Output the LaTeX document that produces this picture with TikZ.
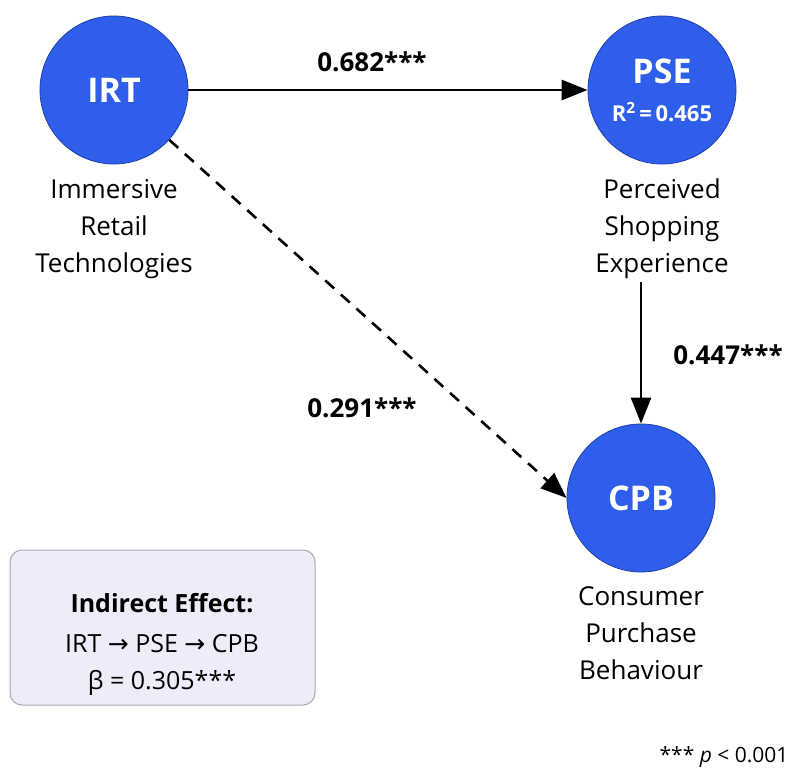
\documentclass[tikz,border=0pt]{standalone}
\usepackage{fontspec}
\setmainfont{Open Sans}
\newfontfamily\arrowfont{DejaVu Sans}
\usetikzlibrary{positioning,arrows.meta}
\definecolor{latentblue}{HTML}{2F5FEA}
\definecolor{latentedge}{HTML}{1F3FA8}
\definecolor{notefill}{HTML}{EEECF8}
\definecolor{notedraw}{HTML}{A8A8B0}
\tikzset{
  latent/.style={circle, fill=latentblue, draw=latentedge, line width=0.8pt,
    minimum size=148pt, inner sep=0pt, text=white, align=center,
    font=\fontsize{34}{36}\selectfont\bfseries},
  desc/.style={align=center, font=\fontsize{26}{37}\selectfont},
  coef/.style={font=\fontsize{26}{30}\selectfont\bfseries},
  path/.style={line width=2.6pt, -{Triangle[length=26pt,width=20pt]}},
}
\begin{document}
\begin{tikzpicture}[x=1pt,y=-1pt]
  \useasboundingbox (0,0) rectangle (794,776);
  % constructs
  \node[latent] (IRT) at (114,90) {IRT};
  \node[latent] (PSE) at (662,90) {PSE\\[2pt]{\fontsize{22}{24}\selectfont R\textsuperscript{2}\,=\,0.465}};
  \node[latent] (CPB) at (641,498) {CPB};
  % descriptions
  \node[desc, below=11pt of IRT] (IRTd) {Immersive\\Retail\\Technologies};
  \node[desc, below=11pt of PSE] (PSEd) {Perceived\\Shopping\\Experience};
  \node[desc, below=11pt of CPB] (CPBd) {Consumer\\Purchase\\Behaviour};
  % paths
  \draw[path] (IRT) -- (PSE);
  \draw[path, dashed, dash pattern=on 12pt off 9pt] (IRT) -- (CPB.west);
  \draw[path] (PSEd.south -| CPB.north) -- (CPB.north);
  \node[coef] (b1) at (372,62) {0.682***};
  \node[coef] (b2) at (362,408) {0.291***};
  \node[coef] (b3) at (728,355) {0.447***};
  % indirect effect
  \draw[rounded corners=12pt, fill=notefill, draw=notedraw, line width=1pt]
    (10,550) rectangle (315,705);
  \node[font=\fontsize{25}{28}\selectfont\bfseries] (ind) at (162,603) {Indirect Effect:};
  \node[font=\fontsize{25}{28}\selectfont] (path) at (162,644) {IRT {\arrowfont →} PSE {\arrowfont →} CPB};
  \node[font=\fontsize{25}{28}\selectfont] (beta) at (162,683) {β = 0.305***};
  \node[font=\fontsize{21}{24}\selectfont, anchor=east] (sig) at (792,757) {*** \textit{p} < 0.001};
\end{tikzpicture}
\end{document}
